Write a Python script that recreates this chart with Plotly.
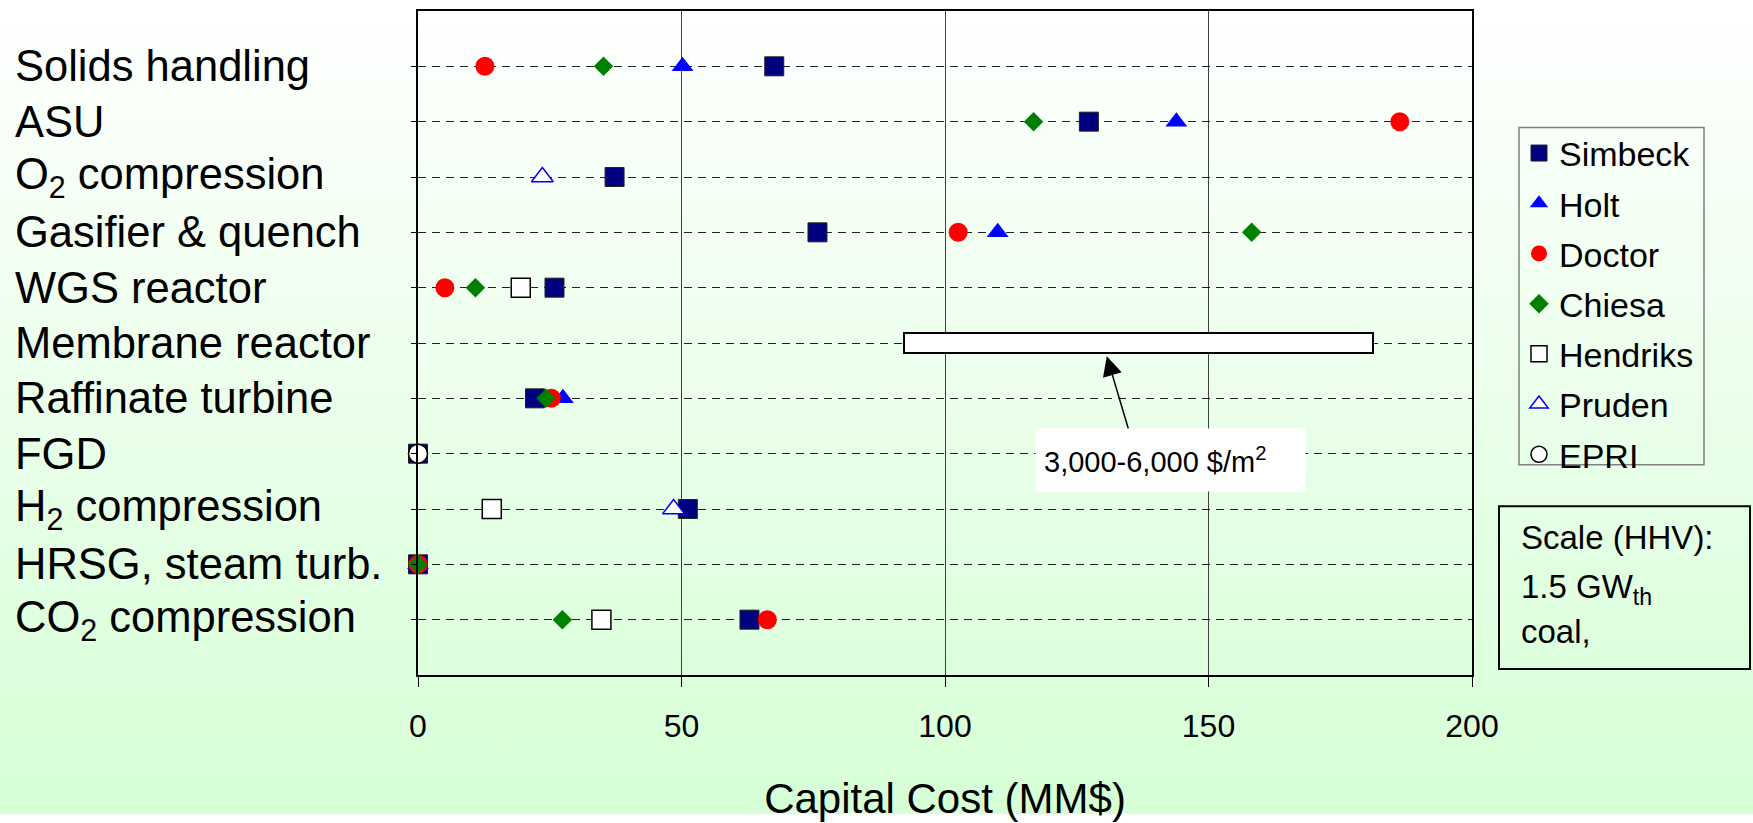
import base64
import plotly.graph_objects as go

# ---------------- data ----------------
categories = ["Solids handling", "ASU", "O<sub>2</sub> compression", "Gasifier & quench",
              "WGS reactor", "Membrane reactor", "Raffinate turbine", "FGD",
              "H<sub>2</sub> compression", "HRSG, steam turb.", "CO<sub>2</sub> compression"]

simbeck = [67.6, 127.3, 37.3, 75.8, 25.9, None, 22.2, 0, 51.2, 0, 62.9]
holt = [50.2, 143.9, None, 110.0, None, None, 27.5, None, None, 0, None]
doctor = [12.7, 186.3, None, 102.5, 5.1, None, 25.3, None, None, 0, 66.3]
chiesa = [35.2, 116.8, None, 158.2, 10.9, None, 24.3, None, None, 0, 27.4]
hendriks = [None, None, None, None, 19.5, None, None, None, 14.0, None, 34.8]
pruden = [None, None, 23.6, None, None, None, None, None, 48.5, None, None]
epri = [None, None, None, None, None, None, None, 0, None, None, None]

membrane_range = [92.3, 181.3]   # MM$, 3,000-6,000 $/m2
x_ticks = [0, 50, 100, 150, 200]

# ---------------- layout geometry ----------------
W, H = 1753, 823
ML, MR, MT, MB = 418, 281, 9, 141
PW, PH = W - ML - MR, H - MT - MB


def px(xpix):
    return (xpix - ML) / PW


def py(ypix):
    return (H - MB - ypix) / PH


FONT = "Arial, Liberation Sans, sans-serif"

fig = go.Figure()

# membrane reactor range as a floating bar
fig.add_trace(go.Bar(
    y=[categories[5]], x=[membrane_range[1] - membrane_range[0]], base=[membrane_range[0]],
    orientation="h", width=0.36,
    marker=dict(color="white", line=dict(color="black", width=2)),
    showlegend=False, hoverinfo="skip",
))

series = [
    ("Simbeck", simbeck, dict(symbol="square", size=19, color="#000080", line=dict(color="#222", width=1))),
    ("Holt", holt, dict(symbol="triangle-up", size=19, color="#0000FF", line=dict(width=0))),
    ("Doctor", doctor, dict(symbol="circle", size=19, color="#FF0000", line=dict(width=0))),
    ("Chiesa", chiesa, dict(symbol="diamond", size=15, color="#008000", line=dict(width=0))),
    ("Hendriks", hendriks, dict(symbol="square", size=19, color="white", line=dict(color="black", width=1.5))),
    ("Pruden", pruden, dict(symbol="triangle-up", size=19, color="white", line=dict(color="#0000FF", width=1.5))),
    ("EPRI", epri, dict(symbol="circle", size=19, color="white", line=dict(color="black", width=1.5))),
]
for name, vals, mk in series:
    fig.add_trace(go.Scatter(
        x=vals, y=categories, mode="markers", name=name, marker=mk,
        cliponaxis=False, legendgroup=name,
    ))

# gradient background
svg = (f'<svg xmlns="http://www.w3.org/2000/svg" width="{W}" height="{H}" preserveAspectRatio="none">'
       '<defs><linearGradient id="g" x1="0" y1="0" x2="0" y2="1">'
       '<stop offset="0" stop-color="#ffffff"/><stop offset="1" stop-color="#d6ffd6"/>'
       '</linearGradient></defs>'
       f'<rect width="{W}" height="{H}" fill="url(#g)"/></svg>')
src = "data:image/svg+xml;base64," + base64.b64encode(svg.encode()).decode()

annotations = []
# category labels, left aligned
for c in categories:
    annotations.append(dict(
        text=c, x=px(13), xref="paper", y=c, yref="y", xanchor="left", yanchor="middle",
        showarrow=False, font=dict(family=FONT, size=43.5, color="black"),
    ))
# arrow
annotations.append(dict(
    text="", x=130.7, y=5.24, xref="x", yref="y", ax=22, ay=74,
    showarrow=True, arrowhead=2, arrowsize=2.6, arrowwidth=1.5, arrowcolor="black", standoff=0,
))
# membrane cost label
annotations.append(dict(
    text="3,000-6,000 $/m<sup>2</sup>", x=142.8, y=7.11, xref="x", yref="y",
    xanchor="center", yanchor="middle", showarrow=False,
    width=253, height=46, borderpad=8, align="left", valign="middle",
    bgcolor="white", font=dict(family=FONT, size=29, color="black"),
))
# scale box text
for txt, yp in [("Scale (HHV):", 543), ("1.5 GW<sub>th</sub>", 595), ("coal,", 638)]:
    annotations.append(dict(
        text=txt, x=px(1519), y=py(yp), xref="paper", yref="paper",
        xanchor="left", yanchor="middle", showarrow=False,
        font=dict(family=FONT, size=33, color="black"),
    ))

fig.update_layout(
    width=W, height=H,
    margin=dict(l=ML, r=MR, t=MT, b=MB, pad=0),
    paper_bgcolor="white", plot_bgcolor="rgba(0,0,0,0)",
    font=dict(family=FONT, color="black"),
    images=[dict(source=src, xref="paper", yref="paper", x=px(0), y=py(0),
                 sizex=W / PW, sizey=H / PH, xanchor="left", yanchor="top",
                 sizing="stretch", layer="below")],
    xaxis=dict(
        range=[0, 200], tickvals=x_ticks, ticktext=[str(v) for v in x_ticks],
        showgrid=True, gridcolor="#404040", gridwidth=1, zeroline=False,
        showline=True, linecolor="black", linewidth=2, mirror=True,
        ticks="outside", ticklen=10, tickcolor="black", tickwidth=1,
        tickfont=dict(family=FONT, size=32, color="black"), ticklabelstandoff=12,
        title=dict(text="Capital Cost (MM$)", font=dict(family=FONT, size=42, color="black"),
                   standoff=40),
    ),
    yaxis=dict(
        type="category", categoryorder="array", categoryarray=categories,
        range=[11, -1], showticklabels=False,
        showgrid=True, gridcolor="#222", gridwidth=1, griddash="8px,6px",
        showline=True, linecolor="black", linewidth=2, mirror=True,
        ticks="outside", ticklen=5, tickcolor="black",
    ),
    legend=dict(
        x=px(1519), y=py(124), xanchor="left", yanchor="top",
        bgcolor="rgba(0,0,0,0)", borderwidth=0,
        font=dict(family=FONT, size=34, color="black"), tracegroupgap=3,
    ),
    annotations=annotations,
    shapes=[
        dict(type="rect", xref="paper", yref="paper",
             x0=px(1519), x1=px(1704), y0=py(469), y1=py(127),
             line=dict(color="#808080", width=1.5), fillcolor="rgba(0,0,0,0)"),
        dict(type="rect", xref="paper", yref="paper",
             x0=px(1499), x1=px(1750), y0=py(676), y1=py(511),
             line=dict(color="black", width=2), fillcolor="rgba(0,0,0,0)"),
    ],
    bargap=0,
)

fig.write_html("out.html", config={"displayModeBar": False},
               post_script="document.body.style.margin='0';document.body.style.padding='0';")
